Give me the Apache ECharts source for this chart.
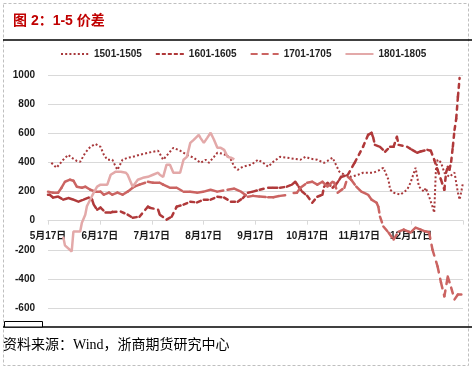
<!DOCTYPE html>
<html><head><meta charset="utf-8">
<script src="https://cdn.jsdelivr.net/npm/echarts@6/dist/echarts.min.js"></script>
<style>html,body{margin:0;padding:0;background:#fff}#c{width:472px;height:369px}</style>
</head><body><div id="c"></div>
<script>
// x = days since 5月17日 (axis spans 8 months = 245 days)
const monthLabels = ['5月17日','6月17日','7月17日','8月17日','9月17日','10月17日','11月17日','12月17日',''];
const seriesNames = ['1501-1505','1601-1605','1701-1705','1801-1805'];

const s1501 = [[2,397],[5,363],[9,418],[12,452],[14,432],[17,410],[19,404],[22,466],[25,507],[28,527],[31,507],[33,452],[35,418],[38,418],[40,370],[41,349],[44,418],[47,432],[50,438],[54,452],[59,466],[62,473],[65,480],[68,418],[72,473],[74,500],[78,480],[82,452],[86,432],[90,397],[93,418],[95,397],[98,438],[100,466],[103,460],[106,445],[108,418],[110,370],[112,349],[115,370],[120,384],[124,418],[127,397],[130,370],[133,404],[137,438],[141,432],[145,425],[149,418],[152,438],[155,425],[159,418],[163,397],[165,410],[168,432],[170,384],[172,336],[175,315],[179,301],[183,315],[186,329],[192,329],[195,343],[198,363],[201,281],[202,212],[204,192],[208,178],[212,212],[214,260],[217,363],[219,233],[222,199],[223,225],[225,164],[227,96],[228,55],[229,349],[230,418],[232,400],[234,329],[237,301],[240,330],[241,260],[242,192],[243,144],[244,200],[245,260]];

const s1601 = [[0,178],[1,178],[3,158],[6,165],[9,144],[12,155],[15,144],[18,130],[21,144],[24,158],[26,144],[27,110],[29,75],[31,89],[34,55],[37,55],[38,60],[43,62],[47,41],[50,20],[54,27],[59,96],[60,89],[65,75],[66,41],[70,7],[73,27],[76,96],[80,110],[84,130],[88,125],[92,144],[96,144],[100,164],[104,158],[108,130],[112,130],[115,155],[118,192],[121,199],[125,212],[130,226],[133,226],[137,226],[141,233],[144,247],[146,267],[148,233],[150,200],[153,170],[156,123],[159,164],[162,178],[163,233],[165,260],[168,226],[170,247],[172,281],[173,300],[177,315],[181,397],[186,507],[189,589],[191,603],[192,570],[193,520],[196,507],[199,473],[202,507],[204,507],[206,575],[207,520],[212,507],[215,486],[218,466],[220,475],[224,486],[226,480],[228,418],[230,349],[232,281],[234,212],[235,329],[236,370],[237,350],[238,404],[239,507],[240,623],[241,700],[242,850],[243,980]];

const s1701 = [[0,199],[3,192],[6,192],[8,226],[10,267],[13,281],[15,274],[17,233],[20,226],[22,233],[25,212],[28,199],[31,199],[33,178],[36,192],[38,178],[41,192],[44,178],[47,199],[50,226],[51,233],[54,247],[59,267],[62,260],[66,260],[68,247],[72,226],[76,226],[80,199],[84,199],[88,192],[92,199],[96,212],[100,199],[106,212],[110,220],[114,199],[118,164],[121,170],[125,165],[130,160],[133,160],[137,170],[140,175],[142,null],[145,190],[147,192],[149,226],[153,260],[156,267],[159,247],[162,267],[165,233],[168,267],[169,260],[171,192],[175,226],[177,301],[179,281],[182,233],[185,199],[189,178],[191,144],[194,123],[195,96],[196,27],[198,-40],[201,-82],[204,-130],[207,-75],[210,-62],[214,-82],[217,-48],[220,-62],[223,-75],[225,-82],[227,-200],[230,-315],[232,-425],[234,-520],[236,-384],[238,-460],[240,-541],[242,-507],[244,-507]];

const s1801 = [[9,-110],[10,-170],[14,-212],[15,-75],[17,-75],[19,-75],[20,-14],[22,40],[23,100],[24,123],[27,192],[29,233],[31,247],[35,247],[37,315],[40,336],[43,336],[46,329],[47,315],[50,233],[53,281],[56,294],[59,301],[62,315],[65,329],[66,315],[68,300],[70,384],[72,384],[74,329],[78,329],[80,418],[82,438],[84,534],[86,555],[89,589],[90,568],[92,534],[94,568],[96,603],[98,555],[100,500],[102,500],[104,486],[106,438],[108,432],[110,420]];

const FONT = '"Liberation Sans","Noto Sans CJK SC",sans-serif';
const C1501 = '#A8383B', C1601 = '#B0393A', C1701 = '#CB6462', C1801 = '#E3A9A9';
const SPAN = 245, STEP = SPAN / 8;
const Y_MIN = -600, Y_MAX = 1000, Y_STEP = 200;
const GRID = {left: 48, right: 9, top: 75, bottom: 61};
// put the category axis on the zero line of the value axis
const plotH = 369 - GRID.top - GRID.bottom;
const zeroOffset = -plotH * (0 - Y_MIN) / (Y_MAX - Y_MIN);

// Excel-like dashed segments: each segment starts its own dash pattern
function segmentRenderer(src, color, width, dash) {
  return function (params, api) {
    const i = params.dataIndex;
    if (i === 0) return null;
    const p0 = src[i - 1], p1 = src[i];
    if (p0[1] == null || p1[1] == null) return null;
    const a = api.coord([p0[0], p0[1]]), b = api.coord([p1[0], p1[1]]);
    return {type: 'line', shape: {x1: a[0], y1: a[1], x2: b[0], y2: b[1]},
      style: {stroke: color, lineWidth: width, lineDash: dash, lineCap: 'round', fill: null}};
  };
}

const chart = echarts.init(document.getElementById('c'), null, {renderer: 'canvas'});
chart.setOption({
  animation: false,
  backgroundColor: '#fff',
  textStyle: {fontFamily: FONT},
  grid: GRID,
  legend: {
    left: 55, top: 44, itemWidth: 28, itemHeight: 10, itemGap: 13, selectedMode: false,
    itemStyle: {opacity: 0},
    textStyle: {fontSize: 10, fontWeight: 'bold', color: '#222', fontFamily: FONT},
    data: seriesNames
  },
  xAxis: {
    type: 'value', min: 0, max: SPAN, interval: STEP, position: 'bottom', offset: zeroOffset,
    axisLine: {onZero: false, lineStyle: {color: '#D9D9D9', width: 1}},
    axisTick: {show: true, length: 4, lineStyle: {color: '#D9D9D9'}},
    splitLine: {show: false},
    axisLabel: {fontSize: 10, fontWeight: 'bold', color: '#1a1a1a', margin: 11, fontFamily: FONT,
      formatter: v => monthLabels[Math.round(v / STEP)] || ''}
  },
  yAxis: {
    type: 'value', min: Y_MIN, max: Y_MAX, interval: Y_STEP,
    axisLine: {show: false}, axisTick: {show: false},
    splitLine: {lineStyle: {color: '#D9D9D9', width: 1}},
    axisLabel: {fontSize: 10, fontWeight: 'bold', color: '#1a1a1a', margin: 13, fontFamily: FONT,
      formatter: v => String(v)}
  },
  graphic: [
    {type: 'rect', silent: true, shape: {x: 3.5, y: 3.5, width: 465, height: 362},
      style: {fill: null, stroke: '#BFBFBF', lineWidth: 1, lineDash: [3, 2]}},
    {type: 'text', left: 13, top: 14, style: {text: '图 2：1-5 价差', fill: '#C00000',
      font: 'bold 14px "Liberation Sans","Noto Sans CJK SC",sans-serif'}},
    {type: 'line', shape: {x1: 3, y1: 40, x2: 472, y2: 40}, style: {stroke: '#000', lineWidth: 1.5}},
    {type: 'line', shape: {x1: 3, y1: 327, x2: 472, y2: 327}, style: {stroke: '#000', lineWidth: 1.5}},
    {type: 'rect', shape: {x: 4.5, y: 321.5, width: 38, height: 5.5}, style: {fill: '#fff', stroke: '#000', lineWidth: 1}},
    {type: 'text', left: 3, top: 338, style: {text: '资料来源：Wind，浙商期货研究中心', fill: '#000',
      font: '14px "Liberation Serif","Noto Sans CJK SC",serif'}}
  ],
  series: [
    {name: seriesNames[0], type: 'line', data: s1501, showSymbol: false, symbol: 'none',
      lineStyle: {color: C1501, width: 2, type: [2, 2.2]}, itemStyle: {color: C1501}},
    {name: seriesNames[1], type: 'line', data: [], symbol: 'none',
      lineStyle: {color: C1601, width: 2, type: [4, 2]}, itemStyle: {color: C1601}},
    {name: seriesNames[2], type: 'line', data: [], symbol: 'none',
      lineStyle: {color: C1701, width: 2, type: [7, 4]}, itemStyle: {color: C1701}},
    {name: seriesNames[1], type: 'custom', data: s1601, encode: {x: 0, y: 1},
      renderItem: segmentRenderer(s1601, C1601, 2.5, [4, 5]), itemStyle: {color: C1601}},
    {name: seriesNames[2], type: 'custom', data: s1701, encode: {x: 0, y: 1},
      renderItem: segmentRenderer(s1701, C1701, 2.5, [6, 6.5]), itemStyle: {color: C1701}},
    {name: seriesNames[3], type: 'line', data: s1801, showSymbol: false, symbol: 'none',
      lineStyle: {color: C1801, width: 2.5}, itemStyle: {color: C1801}}
  ]
});
</script></body></html>
